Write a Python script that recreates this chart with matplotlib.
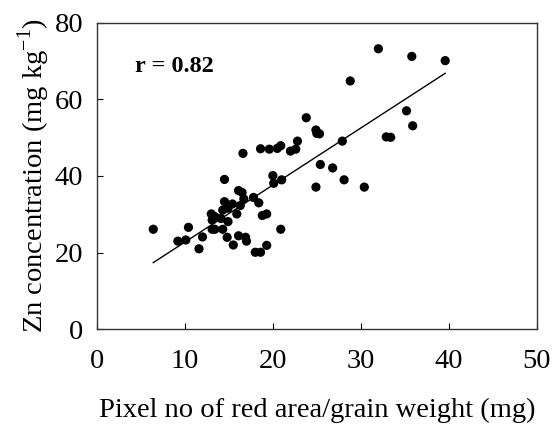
import matplotlib.pyplot as plt

plt.rcParams['font.family'] = ['Liberation Serif', 'DejaVu Serif']

# data
pixel_per_mg = [6.4, 9.2, 10.1, 10.4, 11.6, 12.0, 13.0, 13.1, 13.1, 13.4,
                13.4, 14.1, 14.3, 14.3, 14.5, 14.5, 14.8, 14.9, 14.9, 15.4,
                15.5, 15.9, 16.1, 16.1, 16.5, 16.3, 16.7, 16.6, 16.9, 17.0,
                17.8, 18.4, 18.0, 18.6, 18.6, 18.8, 19.3, 19.3, 19.6, 20.0,
                20.1, 20.5, 20.9, 21.0, 20.9, 22.0, 22.6, 22.8, 23.8, 24.9,
                25.0, 25.3, 24.9, 25.4, 26.8, 27.9, 28.1, 28.8, 30.4, 32.0,
                32.9, 33.4, 35.2, 35.8, 35.9, 39.6]
zn_conc = [26.1, 23.0, 23.3, 26.6, 21.0, 24.1, 30.1, 28.5, 26.1, 29.4,
           26.1, 28.9, 26.1, 31.1, 33.3, 39.1, 24.0, 28.1, 31.6, 32.7,
           22.0, 30.1, 24.4, 36.2, 35.7, 32.3, 34.0, 45.9, 24.0, 23.0,
           34.4, 33.0, 20.1, 20.1, 47.1, 29.7, 30.1, 21.9, 47.0, 40.1,
           38.1, 47.2, 47.9, 39.0, 26.1, 46.5, 47.0, 49.1, 55.2, 52.0,
           51.1, 51.0, 37.1, 43.0, 42.1, 49.1, 39.0, 64.8, 37.1, 73.2,
           50.2, 50.1, 57.0, 71.2, 53.1, 70.1]

fit_x = [6.4, 39.6]
fit_y = [17.4, 66.8]

fig = plt.figure(figsize=(5.52, 4.25), dpi=100)
ax = fig.add_axes([0.1757, 0.2252, 0.7965, 0.7214])

ax.scatter(pixel_per_mg, zn_conc, s=44, color='black', edgecolors='none', zorder=3)
ax.plot(fit_x, fit_y, color='black', linewidth=1)

ax.text(4.3, 68.5, 'r = 0.82', fontsize=17.5, fontweight='bold', va='center', ha='left')

ax.set_xlim(0, 50)
ax.set_ylim(0, 80)
ax.set_xticks([0, 10, 20, 30, 40, 50])
ax.set_yticks([0, 20, 40, 60, 80])
ax.tick_params(direction='in', length=4, labelsize=20.5)
ax.tick_params(axis='x', pad=14)
ax.tick_params(axis='y', pad=10)

ax.set_xlabel('Pixel no of red area/grain weight (mg)', fontsize=20.5, labelpad=17)
ax.set_ylabel('Zn concentration (mg kg$^{\\mathregular{-1}}$)', fontsize=20.5, labelpad=2)

for sp in ax.spines.values():
    sp.set_color('#333333')
    sp.set_linewidth(1)

fig.savefig('out.png', dpi=100)
